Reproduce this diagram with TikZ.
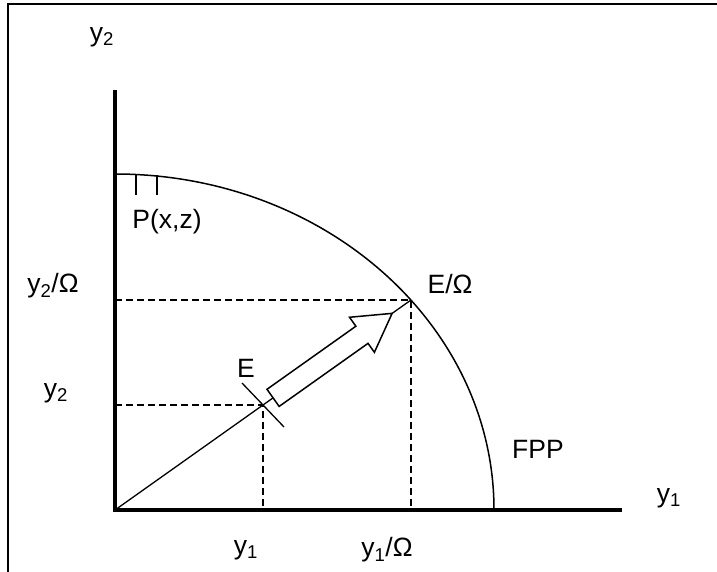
\documentclass[tikz,border=0pt]{standalone}
\usepackage{fontspec}
\setmainfont{Liberation Sans}
\usetikzlibrary{calc}
\begin{document}
\begin{tikzpicture}[x=1pt,y=-1pt]
\tikzstyle{every node}=[font=\fontsize{26.5}{31}\selectfont,inner sep=0pt]
\tikzstyle{axis}=[line width=3.5pt]
\tikzstyle{guide}=[line width=1.3pt,dash pattern=on 7pt off 4pt]
\tikzstyle{thin}=[line width=1.3pt]
\useasboundingbox (0,0) rectangle (717,572);
% frame
\draw[line width=2.5pt] (8,572) -- (8,4) -- (717,4);
% points
\coordinate (O) at (115,510);
\coordinate (E) at (263,405);
\coordinate (EO) at (411,300);
\coordinate (ytip) at (115,90);
\coordinate (xtip) at (622,510);
\coordinate (tail) at ($(O)!0.534!(EO)$);
% frontier
\draw[line width=1.5pt] (113,174) -- (115,174) arc[start angle=90,end angle=0,x radius=379pt,y radius=336pt];
\draw[thin] (136,175) -- (136,195) (157,175) -- (157,195);
% guides
\draw[guide] (O |- EO) -- (EO) -- (O -| EO);
\draw[guide] (O |- E) -- (E) -- (O -| E);
% ray and arrow
\draw[thin] (O) -- (EO);
\draw[thin] ($(E)+(-21,-22)$) -- ($(E)+(21,22)$);
\draw[line width=1.5pt,fill=white,shift={(tail)},rotate=35.36] (0,-10.5) -- (109,-10.5) -- (109,-21.5) -- (146,0) -- (109,21.5) -- (109,10.5) -- (0,10.5) -- cycle;
% axes
\draw[axis] (ytip) -- (O) -- (xtip);
% labels
\node (ytop) at (102,37) {y\textsubscript{2}};
\node (yOm) at (53,286) {y\textsubscript{2}/Ω};
\node (ylow) at (56,393) {y\textsubscript{2}};
\node (Elab) at (246,368) {E};
\node (EOlab) at (450,284) {E/Ω};
\node (pxz) at (167,222) {P(x,z)};
\node (fpp) at (538,449) {FPP};
\node (xright) at (669,498) {y\textsubscript{1}};
\node (xlow) at (246,550) {y\textsubscript{1}};
\node (xOm) at (387,550) {y\textsubscript{1}/Ω};
\end{tikzpicture}
\end{document}
